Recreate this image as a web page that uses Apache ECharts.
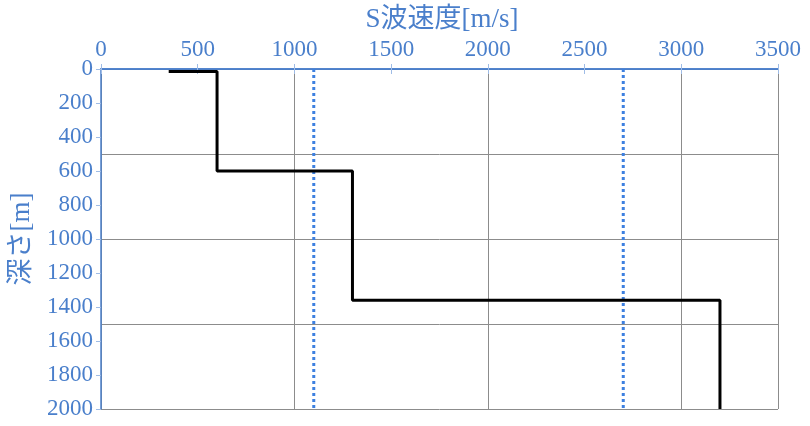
<!DOCTYPE html>
<html><head><meta charset="utf-8">
<script src="https://cdn.jsdelivr.net/npm/echarts@6/dist/echarts.min.js"></script>
<style>html,body{margin:0;padding:0;background:#fff}#c{width:810px;height:426px}</style>
</head><body><div id="c"></div>
<script>
// S-wave velocity profile (step): velocity [m/s] and depth [m]
const stepVelocity = [350, 600, 600, 1300, 1300, 3200, 3200];
const stepDepth    = [15,  15,  600, 600,  1360, 1360, 2000];
// reference velocity lines (dotted)
const refVelocities = [1100, 2700];
const depthRange = [0, 2000];

const BLUE = '#4a7fcb';
const FONT = '"Liberation Serif", "Noto Sans CJK JP", serif';
const plain = v => String(v);

const series = [{
  type: 'line', xAxisIndex: 0, yAxisIndex: 0,
  data: stepVelocity.map((v, i) => [v, stepDepth[i]]),
  symbol: 'none', lineStyle: {color: '#000', width: 3}, z: 5, silent: true
}];
refVelocities.forEach(v => series.push({
  type: 'line', xAxisIndex: 0, yAxisIndex: 0,
  data: depthRange.map(d => [v, d]),
  symbol: 'none', lineStyle: {color: '#3d80e0', width: 3, type: [3, 3]}, z: 4, silent: true
}));

const chart = echarts.init(document.getElementById('c'));
chart.setOption({
  animation: false,
  grid: {left: 98, right: 32, top: 69, bottom: 17},
  title: {text: 'S波速度[m/s]', left: 437, textAlign: 'center', top: 1,
    textStyle: {color: BLUE, fontFamily: FONT, fontSize: 27, fontWeight: 'normal'}},
  xAxis: [{
    type: 'value', position: 'top', min: 0, max: 3500, interval: 500,
    axisLine: {show: true, lineStyle: {color: BLUE, width: 1.5}},
    axisTick: {show: true, length: 5, lineStyle: {color: '#9fbce6'}},
    axisLabel: {color: BLUE, fontFamily: FONT, fontSize: 23, margin: 8, formatter: plain},
    splitLine: {show: false}
  }, {
    type: 'value', position: 'bottom', min: 0, max: 3500, interval: 500,
    axisLine: {show: true, lineStyle: {color: BLUE, width: 1.5}},
    axisTick: {show: true, length: 5, lineStyle: {color: '#9fbce6'}},
    axisLabel: {show: false}, splitLine: {show: false}
  }, {
    type: 'value', position: 'bottom', min: 0, max: 3500, interval: 1000,
    axisLine: {show: false}, axisTick: {show: false}, axisLabel: {show: false},
    splitLine: {show: true, lineStyle: {color: '#8c8c8c', width: 1}}
  }],
  yAxis: [{
    type: 'value', inverse: true, min: 0, max: 2000, interval: 200,
    name: '深さ[m]', nameLocation: 'middle', nameRotate: 90, nameGap: 66,
    nameTextStyle: {color: BLUE, fontFamily: FONT, fontSize: 27},
    axisLine: {show: true, lineStyle: {color: BLUE, width: 1.5}},
    axisTick: {show: true, length: 5, lineStyle: {color: '#9fbce6'}},
    axisLabel: {color: BLUE, fontFamily: FONT, fontSize: 23, margin: 8, formatter: plain},
    splitLine: {show: false}
  }, {
    type: 'value', inverse: true, min: 0, max: 2000, interval: 500,
    axisLine: {show: false}, axisTick: {show: false}, axisLabel: {show: false},
    splitLine: {show: true, lineStyle: {color: '#8c8c8c', width: 1}}
  }],
  series: series
});
</script></body></html>
